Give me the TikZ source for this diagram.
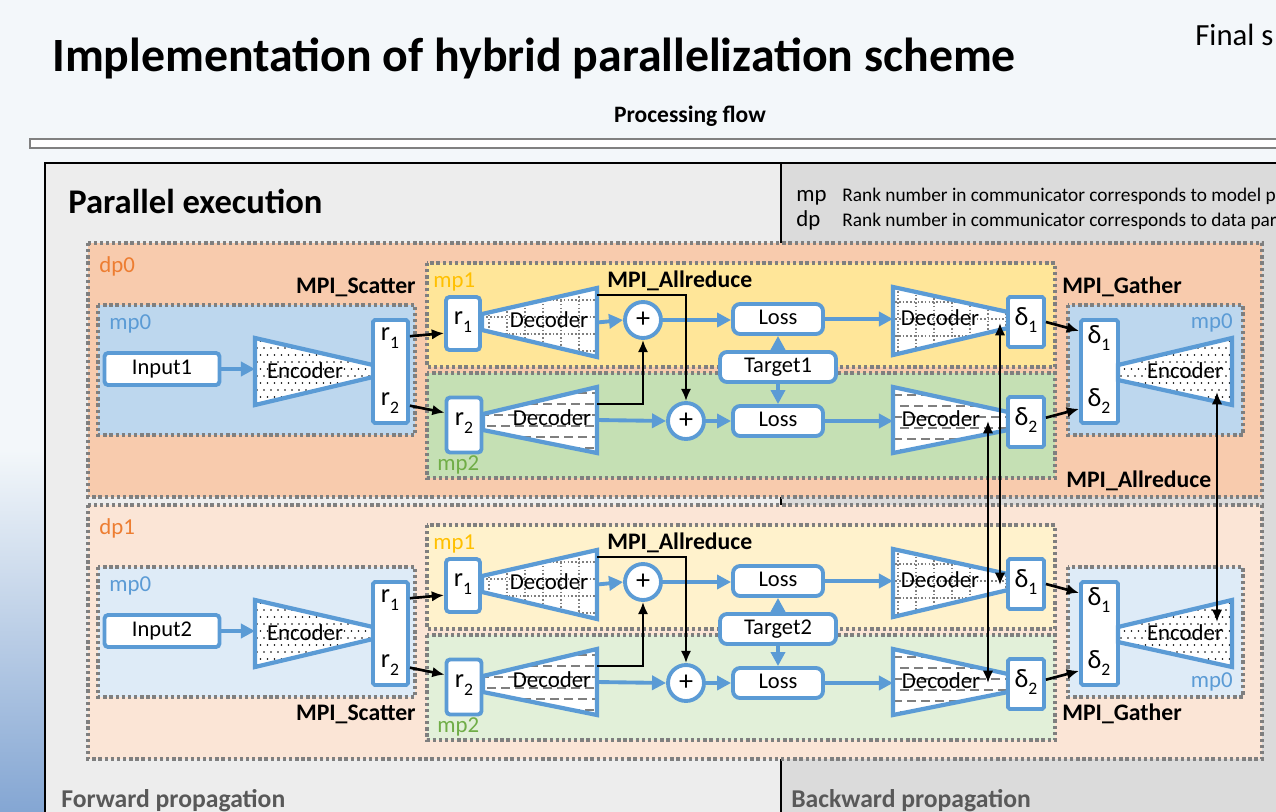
\documentclass[tikz,border=0pt]{standalone}
\usepackage{fontspec}
\setmainfont{Carlito}
\usetikzlibrary{arrows.meta,calc}
\definecolor{myblue}{HTML}{5B9BD5}
\definecolor{dporange}{HTML}{ED7D31}
\definecolor{mpyellow}{HTML}{FFC000}
\definecolor{mpgreen}{HTML}{70AD47}
\definecolor{dpA}{HTML}{F8CBAD}
\definecolor{dpB}{HTML}{FBE5D6}
\definecolor{mpzA}{HTML}{BDD7EE}
\definecolor{mpzB}{HTML}{DEEBF7}
\definecolor{mpoA}{HTML}{FFE699}
\definecolor{mpoB}{HTML}{FFF2CC}
\definecolor{mptA}{HTML}{C5E0B4}
\definecolor{mptB}{HTML}{E2F0D9}
\definecolor{dotgray}{HTML}{7F7F7F}
\definecolor{bgc}{HTML}{F3F7FA}
\definecolor{leftblue}{HTML}{84A6D3}
\definecolor{panelL}{HTML}{EDEDED}
\definecolor{panelR}{HTML}{DBDBDB}
\definecolor{foot}{HTML}{595959}

\newcommand\setfs[1]{\fontsize{#1}{#1}\selectfont}
\newcommand\rsub[2]{#1\raisebox{-0.3em}{\setfs{10}#2}}

\tikzset{
 dpbox/.style={draw=dotgray, line width=1.9pt, dash pattern=on 1.9pt off 1.6pt},
 bbox/.style={draw=myblue, line width=2.2pt, fill=white, inner sep=0pt, rounded corners=2pt},
 trapline/.style={draw=myblue, line width=2.4pt, line join=miter},
 barrow/.style={draw=myblue, line width=2.2pt, -{Triangle[length=8pt,width=8pt]}},
 karrow/.style={draw=black, line width=1.5pt, -{Latex[length=7pt,width=6pt]}},
 karrows/.style={draw=black, line width=1.5pt, {Latex[length=7pt,width=6pt]}-{Latex[length=7pt,width=6pt]}},
 lbl/.style={inner sep=0pt, font=\setfs{13}},
 mpi/.style={inner sep=0pt, font=\bfseries\setfs{13.5}},
 txt/.style={inner sep=0pt, font=\setfs{12.8}, text height=0.63em, text depth=0pt},
 rlab/.style={inner sep=0pt, font=\setfs{15}},
 plusnode/.style={circle, draw=myblue, line width=2.2pt, fill=white, minimum size=0.72cm, inner sep=0pt, font=\setfs{16}},
}

% trapezoid: name, four corners, pattern code
\newcommand\trapz[6]{%
 \coordinate (#1-a) at #2; \coordinate (#1-b) at #3;
 \coordinate (#1-c) at #4; \coordinate (#1-d) at #5;
 \fill[white] (#1-a)--(#1-b)--(#1-c)--(#1-d)--cycle;
 \begin{scope}\clip (#1-a)--(#1-b)--(#1-c)--(#1-d)--cycle; #6\end{scope}
 \draw[trapline] (#1-a)--(#1-b)--(#1-c)--(#1-d)--cycle;}

\newcommand\patdots[2]{\foreach \i in {0,...,17}{\foreach \j in {0,...,10}{%
 \fill[black] ({#1+\i*7+mod(\j,2)*3.5},{#2+\j*7}) circle[radius=0.5pt];}}}
\newcommand\patgrid[2]{\foreach \i in {0,...,7}{%
 \draw[dotgray, line width=0.8pt, dash pattern=on 0.9pt off 1.2pt] ({#1+\i*18},{#2-5}) -- ({#1+\i*18},{#2+90});}%
 \foreach \j in {0,...,5}{%
 \draw[dotgray, line width=0.8pt, dash pattern=on 0.9pt off 1.2pt] ({#1-10},{#2+\j*17}) -- ({#1+130},{#2+\j*17});}}
\newcommand\patdash[2]{\foreach \j in {0,...,7}{%
 \draw[dotgray, line width=1.1pt, dash pattern=on 5pt off 3pt] ({#1-mod(\j,2)*7},{#2+\j*11}) -- ({#1+130},{#2+\j*11});}}

% one data-parallel block
\newcommand\hblock[7]{%
 \draw[dpbox, fill=#1] (88,243) rectangle (1262,497);
 \node[lbl, text=dporange, anchor=base west] (dplab) at (99,272) {#5};
 \draw[dpbox, fill=#2] (98,305) rectangle (415,435);
 \node[lbl, text=myblue, anchor=base west] (mpzlab) at (109,329) {mp0};
 \draw[dpbox, fill=#3] (427,263) rectangle (1055,367);
 \node[lbl, text=mpyellow, anchor=base west] (mpolab) at (433,287) {mp1};
 \draw[dpbox, fill=#4] (427,373) rectangle (1055,478);
 \node[lbl, text=mpgreen, anchor=base west] (mptlab) at (437,470) {mp2};
 \draw[dpbox, fill=#2] (1068,305) rectangle (1243,435);
 \node[mpi, anchor=base west] (allr) at (607,287) {MPI\_Allreduce};
 % forward, mp0
 \node[bbox, txt, minimum width=2.3cm, minimum height=0.64cm] (inp) at (162,369) {#6};
 \trapz{enc}{(255,338)}{(373,365)}{(373,377)}{(255,405)}{\patdots{250}{334}}
 \node[txt, font=\setfs{13}] (enct) at (305,373) {Encoder};
 \node[bbox, rounded corners=1pt, minimum width=0.7cm, minimum height=2.06cm] (rbox) at (390.5,371.5) {};
 \node[rlab] (rA) at (390,338) {\rsub{r}{1}};
 \node[rlab] (rB) at (390,403) {\rsub{r}{2}};
 \draw[barrow] (inp) -- (enc-a |- inp);
 % mp1 forward
 \node[bbox, minimum width=0.68cm, minimum height=1.06cm] (ra) at (463,323.5) {};
 \node[rlab] (raT) at (463,322) {\rsub{r}{1}};
 \trapz{dec1}{(482,314)}{(597,288)}{(597,357)}{(482,330)}{\patgrid{489}{283}}
 \node[txt, font=\setfs{13}] (dec1t) at (549,322) {Decoder};
 \node[plusnode] (pa) at (643,320) {+};
 % mp2 forward
 \node[bbox, minimum width=0.7cm, minimum height=1.1cm] (rb) at (464,425) {};
 \node[rlab] (rbT) at (464,423) {\rsub{r}{2}};
 \trapz{dec2}{(483,414)}{(597,387)}{(597,453)}{(483,430)}{\patdash{480}{393}}
 \node[txt, font=\setfs{13}] (dec2t) at (552,420) {Decoder};
 \node[plusnode] (pb) at (686,421) {+};
 % losses and target
 \node[bbox, txt, rounded corners=4pt, minimum width=1.8cm, minimum height=0.6cm] (lossa) at (778,319) {Loss};
 \node[bbox, txt, rounded corners=4pt, minimum width=2.32cm, minimum height=0.6cm] (tgt) at (778,367) {#7};
 \node[bbox, txt, rounded corners=4pt, minimum width=1.8cm, minimum height=0.6cm] (lossb) at (778,421) {Loss};
 % backward decoders
 \trapz{dec1b}{(893,287)}{(1008,312)}{(1008,328)}{(893,355)}{\patgrid{898}{285}}
 \node[txt, font=\setfs{13}] (dec1bt) at (940,320) {Decoder};
 \node[bbox, rounded corners=1pt, minimum width=0.72cm, minimum height=1.0cm] (da) at (1026,322) {};
 \node[rlab] (daT) at (1026,320) {\rsub{δ}{1}};
 \trapz{dec2b}{(893,387)}{(1008,412)}{(1008,430)}{(893,453)}{\patdash{893}{395}}
 \node[txt, font=\setfs{13}] (dec2bt) at (941,421) {Decoder};
 \node[bbox, rounded corners=1pt, minimum width=0.72cm, minimum height=1.0cm] (db) at (1026,422) {};
 \node[rlab] (dbT) at (1026,420) {\rsub{δ}{2}};
 % backward encoder, mp0
 \node[bbox, rounded corners=1pt, minimum width=0.74cm, minimum height=2.06cm] (dd) at (1099.5,371.5) {};
 \node[rlab] (ddA) at (1099,338) {\rsub{δ}{1}};
 \node[rlab] (ddB) at (1099,401) {\rsub{δ}{2}};
 \trapz{encb}{(1118,365)}{(1232,338)}{(1232,405)}{(1118,380)}{\patdots{1114}{334}}
 \node[txt, font=\setfs{13}] (encbt) at (1185,373) {Encoder};
 % blue flow arrows
 \draw[barrow] ($(dec1-b)!0.5!(dec1-c)$) -- (pa.west);
 \draw[barrow] (pa.east) -- (lossa.west |- pa.east);
 \draw[barrow] (lossa.east) -- (dec1b-a |- lossa.east);
 \draw[barrow] ($(dec2-b)!0.5!(dec2-c)$) -- (pb.west);
 \draw[barrow] (pb.east) -- (lossb.west |- pb.east);
 \draw[barrow] (lossb.east) -- (dec2b-a |- lossb.east);
 \draw[barrow] (tgt.north) -- (lossa.south);
 \draw[barrow] (tgt.south) -- (lossb.north);
 % black communication arrows
 \draw[karrow] ($(rbox.north east)!0.17!(rbox.south east)$) -- ($(ra.north west)!0.67!(ra.south west)$);
 \draw[karrow] ($(rbox.north east)!0.82!(rbox.south east)$) -- ($(rb.north west)!0.29!(rb.south west)$);
 \draw[karrow] ($(dec1-b)!0.1!(dec1-c)$) -| (pb.north);
 \draw[karrow] ($(dec2-b)!0.26!(dec2-c)$) -| (pa.south);
 \draw[karrow] (da.east) -- ($(dd.north west)!0.12!(dd.south west)$);
 \draw[karrow] ($(db.north east)!0.42!(db.south east)$) -- ($(dd.north west)!0.85!(dd.south west)$);
 \coordinate (d1pt) at (1000,323);
 \coordinate (d2pt) at (988,421);
 \coordinate (encA) at (1217,392);
 \coordinate (encB) at (1217,360);
}

\begin{document}
\begin{tikzpicture}[x=0.02cm, y=-0.02cm]
\useasboundingbox (0,0) rectangle (1276,812);
\fill[bgc] (0,0) rectangle (1276,812);
\shade[top color=bgc, bottom color=leftblue] (0,450) rectangle (46,812);
\node[anchor=base west, inner sep=0pt, font=\bfseries\setfs{27.2}] (title) at (52,71) {Implementation of hybrid parallelization scheme};
\node[anchor=base west, inner sep=0pt, font=\setfs{17.5}] (final) at (1195,45) {Final s};
\node[anchor=base, inner sep=0pt, font=\bfseries\setfs{13.4}] (pflow) at (690,122) {Processing flow};
\draw[draw=gray, fill=white, line width=1pt] (30,139) rectangle (1300,148);
% panel
\fill[panelL] (45,163) rectangle (781,830);
\fill[panelR] (781,163) rectangle (1300,830);
\draw[line width=1.3pt] (45,830) -- (45,163) -- (1300,163);
\draw[line width=1pt] (781,163) -- (781,812);
\node[anchor=base west, inner sep=0pt, font=\bfseries\setfs{19.7}] (par) at (68,213) {Parallel execution};
\node[anchor=base west, inner sep=0pt, font=\setfs{13}] (lmp) at (796,201) {mp};
\node[anchor=base west, inner sep=0pt, font=\setfs{11}] (lmpt) at (842,201) {Rank number in communicator corresponds to model p};
\node[anchor=base west, inner sep=0pt, font=\setfs{13}] (ldp) at (796,226) {dp};
\node[anchor=base west, inner sep=0pt, font=\setfs{11}] (ldpt) at (842,226) {Rank number in communicator corresponds to data par};
\node[anchor=base west, inner sep=0pt, font=\bfseries\setfs{14.6}, text=foot] (fwd) at (61,807) {Forward propagation};
\node[anchor=base west, inner sep=0pt, font=\bfseries\setfs{14.6}, text=foot] (bwd) at (791,807) {Backward propagation};
% top block
\begin{scope}[name prefix=t-]
 \hblock{dpA}{mpzA}{mpoA}{mptA}{dp0}{Input1}{Target1}
 \node[mpi, anchor=base east] (scat) at (416,293) {MPI\_Scatter};
 \node[mpi, anchor=base west] (gath) at (1062,293) {MPI\_Gather};
 \node[lbl, text=myblue, anchor=base east] (mpr) at (1233,328) {mp0};
 \node[mpi, anchor=base west] (allr2) at (1066,487) {MPI\_Allreduce};
\end{scope}
% bottom block
\begin{scope}[shift={(0,262)}, name prefix=b-]
 \hblock{dpB}{mpzB}{mpoB}{mptB}{dp1}{Input2}{Target2}
 \node[mpi, anchor=base east] (scat) at (416,458) {MPI\_Scatter};
 \node[mpi, anchor=base west] (gath) at (1062,458) {MPI\_Gather};
 \node[lbl, text=myblue, anchor=base east] (mpr) at (1233,425) {mp0};
\end{scope}
% data-parallel allreduce between blocks
\draw[karrows] (t-d1pt) -- (b-d1pt);
\draw[karrows] (t-d2pt) -- (b-d2pt);
\draw[karrows] (t-encA) -- (b-encB);
\end{tikzpicture}
\end{document}
